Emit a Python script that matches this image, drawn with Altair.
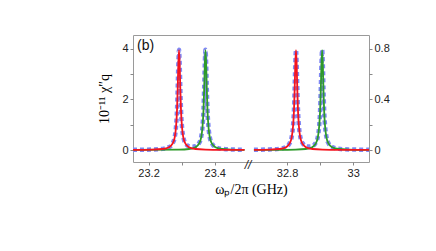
import altair as alt
import pandas as pd

# ---------------- data ----------------
# left segment (left axis, 10^-11 chi''_q)
red_l_x = [23.153, 23.212, 23.242, 23.262, 23.272, 23.279, 23.283, 23.286, 23.288, 23.290, 23.292,
           23.294, 23.296, 23.298, 23.301, 23.305, 23.312, 23.322, 23.342, 23.372, 23.432, 23.49]
red_l_y = [0.006, 0.017, 0.04, 0.11, 0.24, 0.50, 0.92, 1.58, 2.40, 3.40, 3.95,
           3.40, 2.40, 1.58, 0.92, 0.50, 0.24, 0.11, 0.04, 0.017, 0.006, 0.003]
green_l_x = [23.153, 23.292, 23.322, 23.342, 23.352, 23.359, 23.363, 23.366, 23.368, 23.370, 23.372,
             23.374, 23.376, 23.378, 23.381, 23.385, 23.392, 23.402, 23.422, 23.452, 23.49]
green_l_y = [0.0025, 0.017, 0.04, 0.11, 0.24, 0.50, 0.92, 1.58, 2.40, 3.40, 3.95,
             3.40, 2.40, 1.58, 0.92, 0.50, 0.24, 0.11, 0.04, 0.017, 0.008]
blue_l_x = [23.153, 23.212, 23.242, 23.262, 23.272, 23.279, 23.283, 23.286, 23.288, 23.290, 23.292,
            23.294, 23.296, 23.298, 23.301, 23.305, 23.312, 23.322, 23.332, 23.342, 23.352, 23.359,
            23.363, 23.366, 23.368, 23.370, 23.372, 23.374, 23.376, 23.378, 23.381, 23.385, 23.392,
            23.402, 23.422, 23.452, 23.49]
blue_l_y = [0.009, 0.02, 0.045, 0.115, 0.245, 0.505, 0.925, 1.585, 2.405, 3.405, 3.97,
            3.41, 2.41, 1.59, 0.93, 0.52, 0.26, 0.15, 0.13, 0.15, 0.26, 0.52,
            0.93, 1.59, 2.41, 3.41, 3.97, 3.405, 2.405, 1.585, 0.925, 0.505, 0.245,
            0.115, 0.045, 0.022, 0.011]

# right segment (right axis)
red_r_x = [32.700, 32.747, 32.777, 32.797, 32.807, 32.814, 32.818, 32.821, 32.823, 32.825, 32.827,
           32.829, 32.831, 32.833, 32.836, 32.840, 32.847, 32.857, 32.877, 32.907, 32.967, 33.048]
red_r_y = [0.0015, 0.0034, 0.008, 0.022, 0.048, 0.10, 0.184, 0.316, 0.48, 0.68, 0.79,
           0.68, 0.48, 0.316, 0.184, 0.10, 0.048, 0.022, 0.008, 0.0034, 0.0012, 0.0005]
green_r_x = [32.700, 32.766, 32.826, 32.856, 32.876, 32.886, 32.893, 32.897, 32.900, 32.902, 32.904,
             32.906, 32.908, 32.910, 32.912, 32.915, 32.919, 32.926, 32.936, 32.956, 32.986, 33.048]
green_r_y = [0.0006, 0.0012, 0.0034, 0.008, 0.022, 0.048, 0.10, 0.184, 0.316, 0.48, 0.68,
             0.79, 0.68, 0.48, 0.316, 0.184, 0.10, 0.048, 0.022, 0.008, 0.0034, 0.0012]
blue_r_x = [32.700, 32.747, 32.777, 32.797, 32.807, 32.814, 32.818, 32.821, 32.823, 32.825, 32.827,
            32.829, 32.831, 32.833, 32.836, 32.840, 32.847, 32.857, 32.867, 32.876, 32.886, 32.893,
            32.897, 32.900, 32.902, 32.904, 32.906, 32.908, 32.910, 32.912, 32.915, 32.919, 32.926,
            32.936, 32.956, 32.986, 33.048]
blue_r_y = [0.002, 0.0046, 0.0094, 0.024, 0.05, 0.103, 0.187, 0.319, 0.484, 0.684, 0.794,
            0.684, 0.484, 0.32, 0.188, 0.105, 0.054, 0.030, 0.027, 0.030, 0.054, 0.105,
            0.188, 0.32, 0.484, 0.684, 0.794, 0.684, 0.484, 0.319, 0.187, 0.103, 0.05,
            0.024, 0.0094, 0.0046, 0.002]

# axes
x_tick_vals = [23.2, 23.3, 23.4, 32.8, 32.9, 33.0]
x_tick_labels = ["23.2", "", "23.4", "32.8", "", "33"]
break_shift = 9.1816          # right segment drawn shifted left (broken axis)
x_domain = [23.153, 23.866]
left_ticks = [0, 1, 2, 3, 4]
left_labels = ["0", "", "2", "", "4"]
right_ticks = [0, 0.2, 0.4, 0.6, 0.8]
right_labels = ["0", "", "0.4", "", "0.8"]
left_domain = [-0.475, 4.554]
right_domain = [-0.095, 0.9108]

RED = "#f5141e"
GREEN = "#2e9a2a"
BLUE = "#8088f4"


def frame(xs, ys, name, shift=0.0):
    return pd.DataFrame({"x": [v - shift for v in xs], "y": ys, "s": name})


left_df = pd.concat([frame(blue_l_x, blue_l_y, "blue"),
                     frame(green_l_x, green_l_y, "green"),
                     frame(red_l_x, red_l_y, "red")])
right_df = pd.concat([frame(blue_r_x, blue_r_y, "blue", break_shift),
                      frame(green_r_x, green_r_y, "green", break_shift),
                      frame(red_r_x, red_r_y, "red", break_shift)])

plot_ticks = [v if v < 30 else v - break_shift for v in x_tick_vals]
label_expr = ""
for pv, lab in zip(plot_ticks, x_tick_labels):
    label_expr += f"abs(datum.value - {pv:.4f}) < 0.01 ? '{lab}' : "
label_expr += "''"

xenc = alt.X("x:Q", scale=alt.Scale(domain=x_domain, nice=False, zero=False),
             axis=alt.Axis(values=plot_ticks, labelExpr=label_expr,
                           title="ωₚ/2π (GHz)", titleFont="Liberation Serif",
                           titleFontSize=14, titleFontWeight="normal",
                           titlePadding=4, grid=False))


def ylab_expr(ticks, labels):
    e = ""
    for t, l in zip(ticks, labels):
        e += f"abs(datum.value - {t}) < 1e-6 ? '{l}' : "
    return e + "''"


yl = alt.Y("y:Q", scale=alt.Scale(domain=left_domain, nice=False, zero=False),
           axis=alt.Axis(values=left_ticks, labelExpr=ylab_expr(left_ticks, left_labels),
                         title="10⁻¹¹ χ″q", titleFont="Liberation Serif", titleFontSize=14,
                         titleFontWeight="normal", titlePadding=10, grid=False, orient="left"))
yr = alt.Y("y:Q", scale=alt.Scale(domain=right_domain, nice=False, zero=False),
           axis=alt.Axis(values=right_ticks, labelExpr=ylab_expr(right_ticks, right_labels),
                         title=None, grid=False, orient="right"))


def curves(df, yenc):
    base = alt.Chart(df)
    blue = base.transform_filter(alt.datum.s == "blue").mark_line(
        color=BLUE, strokeWidth=4.5, strokeDash=[4, 3], interpolate="monotone", clip=True
    ).encode(x=xenc, y=yenc)
    green = base.transform_filter(alt.datum.s == "green").mark_line(
        color=GREEN, strokeWidth=1.8, interpolate="monotone", clip=True
    ).encode(x=xenc, y=yenc)
    red = base.transform_filter(alt.datum.s == "red").mark_line(
        color=RED, strokeWidth=1.8, interpolate="monotone", clip=True
    ).encode(x=xenc, y=yenc)
    return alt.layer(blue, green, red)


left = curves(left_df, yl)
right = curves(right_df, yr)

panel_label = alt.Chart(pd.DataFrame({"t": ["(b)"]})).mark_text(
    align="left", baseline="middle", fontSize=14, font="Liberation Sans", color="#111"
).encode(x=alt.value(4), y=alt.value(11), text="t:N")

break_mark = alt.Chart(pd.DataFrame({"t": ["//"]})).mark_text(
    align="center", baseline="middle", fontSize=12, font="Liberation Sans", color="#222",
    fontStyle="italic"
).encode(x=alt.value(115), y=alt.value(130), text="t:N")

chart = alt.layer(left, right, panel_label, break_mark).resolve_scale(y="independent").properties(
    width=236, height=127,
    autosize=alt.AutoSizeParams(type="none"),
    padding={"left": 125, "top": 27, "right": 59, "bottom": 81},
).configure_view(stroke="#9a9a9a", strokeWidth=1).configure_axis(
    labelFont="Liberation Sans", labelFontSize=11, labelColor="#222",
    tickColor="#888", tickSize=3, labelPadding=2, domain=False
)

chart.save("out.html", embed_options={"renderer": "svg", "actions": False})
